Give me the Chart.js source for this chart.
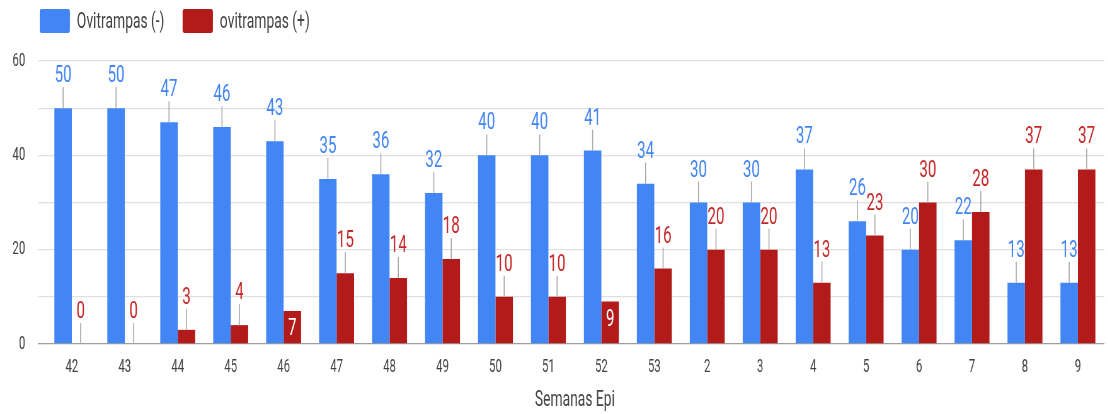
<!DOCTYPE html>
<html>
<head>
<meta charset="utf-8">
<script src="https://cdn.jsdelivr.net/npm/chart.js@4.4.0/dist/chart.umd.min.js"></script>
<style>
  html, body { margin: 0; padding: 0; background: #fff; overflow: hidden; }
  /* el gráfico original está comprimido en horizontal: dibujamos ancho y escalamos */
  #wrap { position: absolute; left: 0; top: 0; width: 1759px; height: 414px;
          transform: scaleX(0.63); transform-origin: 0 0; }
  #grafico { position: absolute; left: 0; top: 0; }
  .ley-caja { position: absolute; top: 9px; width: 48px; height: 24px; border-radius: 3px; }
  .ley-txt { position: absolute; top: 8px; line-height: 26px; font: 22px Roboto, sans-serif; color: #444; white-space: nowrap; }
</style>
</head>
<body>
<div id="wrap">
  <canvas id="grafico" width="1759" height="414"></canvas>
  <div class="ley-caja" style="left:63px;background:#4285f4"></div>
  <span class="ley-txt" style="left:122px">Ovitrampas (-)</span>
  <div class="ley-caja" style="left:290px;background:#b31b1b"></div>
  <span class="ley-txt" style="left:349px">ovitrampas (+)</span>
</div>
<script>
// Semanas epidemiológicas y conteo de ovitrampas
const semanas = ['42', '43', '44', '45', '46', '47', '48', '49', '50', '51', '52', '53', '2', '3', '4', '5', '6', '7', '8', '9'];
const negativas = [50, 50, 47, 46, 43, 35, 36, 32, 40, 40, 41, 34, 30, 30, 37, 26, 20, 22, 13, 13];
const positivas = [0, 0, 3, 4, 7, 15, 14, 18, 10, 10, 9, 16, 20, 20, 13, 23, 30, 28, 37, 37];
// etiquetas que van dentro de la barra roja
const dentroRojas = ['46', '52'];
const yTicks = [0, 20, 40, 60];

const AZUL = '#4285f4';
const ROJO = '#b31b1b';

// Anotaciones estilo Google: palito gris + valor encima
const anotaciones = {
  id: 'anotaciones',
  afterDatasetsDraw(chart) {
    const ctx = chart.ctx;
    ctx.save();
    ctx.font = '24px Roboto, sans-serif';
    ctx.textAlign = 'center';
    ctx.textBaseline = 'alphabetic';
    chart.data.datasets.forEach((ds, i) => {
      const meta = chart.getDatasetMeta(i);
      meta.data.forEach((bar, j) => {
        const v = ds.data[j];
        if (i === 1 && dentroRojas.includes(semanas[j])) {
          ctx.fillStyle = '#fff';
          ctx.fillText(String(v), bar.x, bar.y + 24);
          return;
        }
        ctx.strokeStyle = '#a8a8a8';
        ctx.lineWidth = 1.6;
        ctx.beginPath();
        ctx.moveTo(bar.x, bar.y);
        ctx.lineTo(bar.x, bar.y - 21);
        ctx.stroke();
        ctx.fillStyle = i === 0 ? AZUL : '#c62828';
        ctx.fillText(String(v), bar.x, bar.y - 26);
      });
    });
    ctx.restore();
  }
};

new Chart(document.getElementById('grafico').getContext('2d'), {
  type: 'bar',
  data: {
    labels: semanas,
    datasets: [
      { label: 'Ovitrampas (-)', data: negativas, backgroundColor: AZUL },
      { label: 'ovitrampas (+)', data: positivas, backgroundColor: ROJO }
    ]
  },
  options: {
    responsive: false,
    animation: false,
    devicePixelRatio: 1,
    layout: { padding: { top: 61, right: 6, left: 0, bottom: 0 } },
    datasets: { bar: { categoryPercentage: 0.66, barPercentage: 1, borderWidth: 0 } },
    plugins: { legend: { display: false }, tooltip: { enabled: false } },
    scales: {
      x: {
        grid: { display: false, drawTicks: false },
        border: { display: false },
        ticks: { color: '#444', font: { family: 'Roboto', size: 18 }, padding: 13 },
        title: { display: true, text: 'Semanas Epi', color: '#444', font: { family: 'Roboto', size: 22 }, padding: { top: 0, bottom: 0 } },
        afterFit: s => { s.height = 70; }
      },
      y: {
        min: 0, max: 60,
        border: { display: false },
        grid: {
          color: c => (c.tick && c.tick.value === 0 ? '#9e9e9e' : '#e0e0e0'),
          lineWidth: 1.3,
          tickLength: 12
        },
        ticks: {
          stepSize: 10,
          color: '#444',
          font: { family: 'Roboto', size: 18 },
          padding: 20,
          callback: v => (yTicks.includes(v) ? v : '')
        },
        afterFit: s => { s.width = 72; }
      }
    }
  },
  plugins: [anotaciones]
});
</script>
</body>
</html>
